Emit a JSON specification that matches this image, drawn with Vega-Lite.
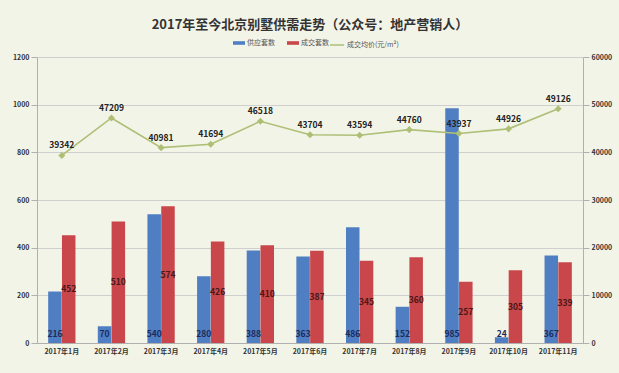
{
  "$schema": "https://vega.github.io/schema/vega-lite/v6.json",
  "autosize": {"type": "none"},
  "width": 546,
  "height": 286,
  "padding": {"left": 37, "top": 57, "right": 36, "bottom": 30},
  "background": "#f3f4e8",
  "config": {
    "font": "Noto Sans CJK SC",
    "view": {"stroke": null},
    "axis": {"labelFont": "Noto Sans CJK SC", "labelFontWeight": "bold", "labelFontSize": 7, "labelColor": "#333333", "domainColor": "#b0b0b0", "tickColor": "#b0b0b0", "gridColor": "#cfcfcf", "titleFontSize": 0}
  },
  "title": {"text": "2017年至今北京别墅供需走势（公众号：地产营销人）", "fontSize": 13, "fontWeight": "bold", "color": "#333333", "anchor": "middle", "offset": 5, "font": "Noto Sans CJK SC"},
  "datasets": {
    "bars": [
      {"month": "2017年1月", "series": "供应套数", "value": 216},
      {"month": "2017年1月", "series": "成交套数", "value": 452},
      {"month": "2017年2月", "series": "供应套数", "value": 70},
      {"month": "2017年2月", "series": "成交套数", "value": 510},
      {"month": "2017年3月", "series": "供应套数", "value": 540},
      {"month": "2017年3月", "series": "成交套数", "value": 574},
      {"month": "2017年4月", "series": "供应套数", "value": 280},
      {"month": "2017年4月", "series": "成交套数", "value": 426},
      {"month": "2017年5月", "series": "供应套数", "value": 388},
      {"month": "2017年5月", "series": "成交套数", "value": 410},
      {"month": "2017年6月", "series": "供应套数", "value": 363},
      {"month": "2017年6月", "series": "成交套数", "value": 387},
      {"month": "2017年7月", "series": "供应套数", "value": 486},
      {"month": "2017年7月", "series": "成交套数", "value": 345},
      {"month": "2017年8月", "series": "供应套数", "value": 152},
      {"month": "2017年8月", "series": "成交套数", "value": 360},
      {"month": "2017年9月", "series": "供应套数", "value": 985},
      {"month": "2017年9月", "series": "成交套数", "value": 257},
      {"month": "2017年10月", "series": "供应套数", "value": 24},
      {"month": "2017年10月", "series": "成交套数", "value": 305},
      {"month": "2017年11月", "series": "供应套数", "value": 367},
      {"month": "2017年11月", "series": "成交套数", "value": 339}
    ],
    "price": [
      {"month": "2017年1月", "price": 39342},
      {"month": "2017年2月", "price": 47209},
      {"month": "2017年3月", "price": 40981},
      {"month": "2017年4月", "price": 41694},
      {"month": "2017年5月", "price": 46518},
      {"month": "2017年6月", "price": 43704},
      {"month": "2017年7月", "price": 43594},
      {"month": "2017年8月", "price": 44760},
      {"month": "2017年9月", "price": 43937},
      {"month": "2017年10月", "price": 44926},
      {"month": "2017年11月", "price": 49126}
    ]
  },
  "encoding": {
    "x": {"field": "month", "type": "nominal", "sort": null, "scale": {"paddingInner": 0.45, "paddingOuter": 0.225}, "axis": {"title": null, "labelAngle": 0, "labelPadding": 4, "tickSize": 0}}
  },
  "layer": [
    {
      "data": {"name": "bars"},
      "mark": {"type": "bar"},
      "encoding": {
        "xOffset": {"field": "series", "type": "nominal", "sort": ["供应套数", "成交套数"], "scale": {"paddingInner": 0.02}},
        "y": {"field": "value", "type": "quantitative", "scale": {"domain": [0, 1200]}, "axis": {"orient": "left", "title": null, "values": [0, 200, 400, 600, 800, 1000, 1200], "format": "d", "grid": true, "tickSize": 6, "labelPadding": 2}},
        "fill": {"field": "series", "type": "nominal", "sort": ["供应套数", "成交套数"], "scale": {"domain": ["供应套数", "成交套数"], "range": ["#4f7fc2", "#c9474b"]}, "legend": {"title": null, "orient": "none", "direction": "horizontal", "legendX": 196, "legendY": -20, "labelFontSize": 7, "labelColor": "#555555", "symbolType": "M-1,-0.3H1V0.3H-1Z", "symbolSize": 144, "symbolStrokeWidth": 0, "columnPadding": 12, "labelOffset": 2}}
      }
    },
    {
      "data": {"name": "bars"},
      "layer": [
        {
          "transform": [{"filter": "datum.series == '成交套数'"}],
          "mark": {"type": "text", "fontWeight": "bold", "fontSize": 8.5, "color": "#4a1616", "baseline": "middle"},
          "encoding": {
            "xOffset": {"field": "series", "type": "nominal", "sort": ["供应套数", "成交套数"]},
            "y": {"field": "value", "type": "quantitative", "scale": {"domain": [0, 2400]}, "axis": null},
            "text": {"field": "value", "type": "quantitative"}
          }
        },
        {
          "transform": [{"filter": "datum.series == '供应套数'"}],
          "mark": {"type": "text", "fontWeight": "bold", "fontSize": 8.5, "color": "#1d2b5c", "baseline": "bottom", "dy": -4},
          "encoding": {
            "xOffset": {"field": "series", "type": "nominal", "sort": ["供应套数", "成交套数"]},
            "y": {"datum": 0, "type": "quantitative"},
            "text": {"field": "value", "type": "quantitative"}
          }
        }
      ]
    },
    {
      "data": {"name": "price"},
      "layer": [
        {
          "mark": {"type": "line", "strokeWidth": 1.6, "point": {"shape": "diamond", "size": 18, "filled": true, "color": "#a9bb70"}},
          "encoding": {
            "y": {"field": "price", "type": "quantitative", "scale": {"domain": [0, 60000]}, "axis": {"orient": "right", "title": null, "values": [0, 10000, 20000, 30000, 40000, 50000, 60000], "format": "d", "grid": false, "tickSize": 6, "labelPadding": 2}},
            "stroke": {"datum": "成交均价(元/m²)", "scale": {"domain": ["成交均价(元/m²)"], "range": ["#aebf76"]}, "legend": {"title": null, "orient": "none", "legendX": 292, "legendY": -20, "labelFontSize": 7, "labelColor": "#555555", "symbolType": "stroke", "symbolSize": 200, "symbolStrokeWidth": 1.5, "labelOffset": 2}}
          }
        },
        {
          "mark": {"type": "text", "fontWeight": "bold", "fontSize": 8.5, "color": "#222222", "baseline": "bottom", "dy": -5},
          "encoding": {
            "y": {"field": "price", "type": "quantitative"},
            "text": {"field": "price", "type": "quantitative", "format": "d"}
          }
        }
      ]
    }
  ],
  "resolve": {"scale": {"y": "independent"}, "axis": {"y": "independent"}}
}
